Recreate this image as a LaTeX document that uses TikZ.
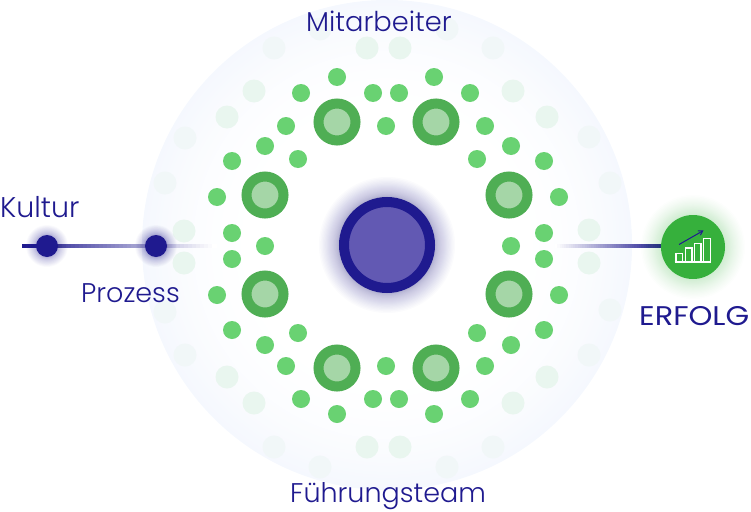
\documentclass[tikz,border=0pt]{standalone}
\usepackage{fontspec}
\setmainfont{Poppins}[UprightFont={* Light},BoldFont={*}]
\usetikzlibrary{calc,arrows.meta}
\definecolor{navy}{HTML}{1F1A8F}
\definecolor{core}{HTML}{6259B3}
\definecolor{ringg}{HTML}{4FAE54}
\definecolor{innerg}{HTML}{A5D6A7}
\definecolor{dotg}{HTML}{69D272}
\definecolor{faintg}{HTML}{E9F6EF}
\definecolor{fainterg}{HTML}{F1F7F8}
\definecolor{succ}{HTML}{36B03C}
\definecolor{halo}{HTML}{F5F8FE}
\newcommand{\glowat}[6]{% x,y,r0,r1,colour,opacity per layer
  \foreach \k in {1,...,30}{
    \fill[#5,opacity=#6] (#1,#2) circle ({#3+(#4-#3)*(\k/30)*(\k/30)});
  }}
\newcommand{\fadeline}[4]{% from, to, start mix, end mix
  \foreach \k in {0,...,47}{
    \pgfmathsetmacro{\mixv}{#3+(#4-#3)*\k/47}
    \draw[line width=3.4pt,draw=navy!\mixv!white]
      ($(#1)!{\k/48}!(#2)$) -- ($(#1)!{(\k+1.3)/48}!(#2)$);
  }}
\tikzset{
  dotn/.style={circle,fill=dotg,inner sep=0pt,minimum size=18pt},
  ringn/.style={circle,draw=ringg,fill=innerg,line width=10pt,inner sep=0pt,minimum size=37pt},
  faintn/.style={circle,fill=faintg,inner sep=0pt,minimum size=23pt},
  fainternn/.style={circle,fill=fainterg,inner sep=0pt,minimum size=23pt},
  lbl/.style={text=navy,inner sep=0pt,anchor=base west},
  barn/.style={draw=white,line width=1.1pt}
}
\begin{document}
\begin{tikzpicture}[x=1pt,y=-1pt]
\useasboundingbox (0,0) rectangle (751,511);
% pale disc, concentric steps from the rim to white
\foreach \k in {0,...,40}{
  \pgfmathsetmacro{\rv}{245-\k*3}
  \pgfmathsetmacro{\mv}{100*(1-\k/40)*(1-\k/40)}
  \fill[halo!\mv!white] (387,245) circle (\rv);
}
% faint dots
\foreach \x/\y [count=\i] in {367/48,400/48,254/91,513/91,227/117,547/117,184/231,589/230,184/263,589/263,227/377,547/377,254/403,513/403,367/447,400/447}
  \node[faintn] (fa\i) at (\x,\y) {};
\foreach \x/\y [count=\i] in {274/48,493/48,320/29,447/29,185/138,589/137,165/183,610/183,165/312,610/310,185/355,589/355,274/447,493/447,320/467,447/467}
  \node[fainternn] (fb\i) at (\x,\y) {};
% small dots
\foreach \x/\y [count=\i] in {337/77,434/77,301/93,470/93,373/93,399/93,286/126,485/126,386/126,265/146,511/146,298/159,477/159,232/161,544/161,217/197,559/197,232/233,544/233,265/246,511/246,232/259,544/259,217/295,559/295,232/330,544/330,298/333,477/333,265/345,511/345,286/366,485/366,386/366,301/399,470/399,373/399,399/399,337/414,434/414}
  \node[dotn] (d\i) at (\x,\y) {};
% ring nodes
\foreach \x/\y [count=\i] in {337/122,436/122,265/195,509/195,265/294,509/294,337/368,436/368}
  \node[ringn] (r\i) at (\x,\y) {};
% coordinates for line ends
\coordinate (kstart) at (22,246);
\coordinate (kend) at (216,246);
\coordinate (estart) at (555,246);
\coordinate (eend) at (664,246);
\fadeline{kstart}{kend}{100}{0}
\fadeline{estart}{eend}{0}{100}
% central node
\glowat{387}{245}{47}{68}{navy}{0.014}
\node[circle,draw=navy,fill=core,line width=10pt,inner sep=0pt,minimum size=86pt] (centre) at (387,245) {};
% Kultur / Prozess
\glowat{47}{246}{10}{21}{navy}{0.018}
\glowat{156}{246}{10}{21}{navy}{0.018}
\node[circle,fill=navy,inner sep=0pt,minimum size=22pt] (kultur) at (47,246) {};
\node[circle,fill=navy,inner sep=0pt,minimum size=22pt] (prozess) at (156,246) {};
% Erfolg
\glowat{693}{247}{31}{52}{succ}{0.012}
\node[circle,fill=succ,inner sep=0pt,minimum size=64pt] (erfolg) at (693,247) {};
\foreach \xa/\xb/\yt in {676/682.5/253.5,685.5/692/248,694.5/701/243.5,703.5/710.5/238.5}
  \draw[barn] (\xa,261.5) -- (\xa,\yt) -- (\xb,\yt) -- (\xb,261.5);
\draw[barn] (674.5,262) -- (711,262);
\draw[navy,line width=1pt,-{Straight Barb[length=4pt,width=5pt]}] (679,244.5) -- (703.5,230.5);
% labels
\node[lbl,font=\fontsize{27.3}{27}\selectfont] (mit) at (306,32) {Mitarbeiter};
\node[lbl,font=\fontsize{27}{27}\selectfont] (fuehr) at (290,502.5) {Führungsteam};
\node[lbl,font=\fontsize{28.5}{28}\selectfont] (kul) at (0,217) {Kultur};
\node[lbl,font=\fontsize{27}{27}\selectfont] (pro) at (81,302) {Prozess};
\node[lbl,font=\fontsize{27}{27}\selectfont\bfseries] (erf) at (639,325) {\scalebox{1.125}[1]{ERFOLG}};
\end{tikzpicture}
\end{document}
